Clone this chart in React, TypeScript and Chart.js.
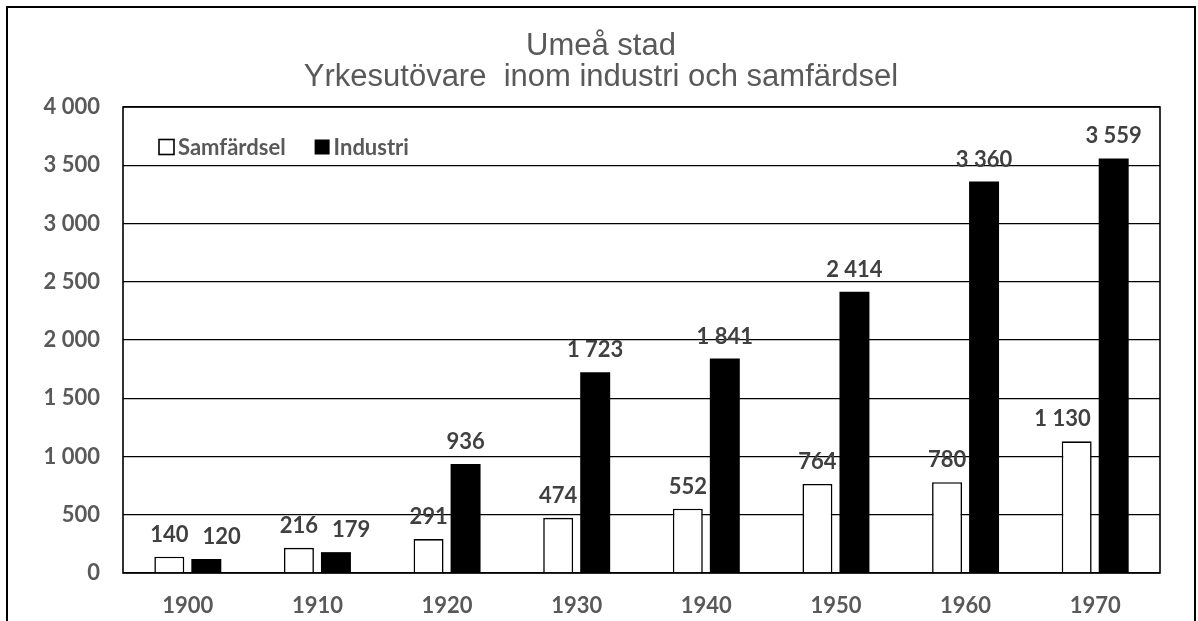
import React, { useEffect, useRef } from 'react';
import { Chart, registerables } from 'chart.js';

Chart.register(...registerables);

const years = ['1900', '1910', '1920', '1930', '1940', '1950', '1960', '1970'];
const samfardsel = [140, 216, 291, 474, 552, 764, 780, 1130];
const industri = [120, 179, 936, 1723, 1841, 2414, 3360, 3559];
const seriesNames = ['Samfärdsel', 'Industri'];
const titleLines = ['Umeå stad', 'Yrkesutövare  inom industri och samfärdsel'];
const yMin = 0;
const yMax = 4000;
const yStep = 500;

const GRAY = '#595959';
const LABEL = '#404040';
const BOLD_FAMILY = 'Lato, "Open Sans", sans-serif';
const LABEL_FONT = `bold 22px ${BOLD_FAMILY}`;

const fmt = (v: number) => String(Math.round(v)).replace(/\B(?=(\d{3})+(?!\d))/g, ' ');

const framePlugin = {
  id: 'frame',
  afterDatasetsDraw(chart: any) {
    const { ctx, chartArea: a } = chart;
    ctx.save();
    ctx.strokeStyle = '#000';
    ctx.lineWidth = 1.6;
    ctx.strokeRect(a.left, a.top, a.right - a.left, a.bottom - a.top);
    ctx.restore();
  },
};

// Value labels above the bars, with simple collision avoidance:
// a label that would run into the neighbouring bar is moved aside,
// and a label that would overlap the previous label of the same year is nudged right.
const dataLabelPlugin = {
  id: 'dataLabels',
  afterDatasetsDraw(chart: any) {
    const { ctx } = chart;
    ctx.save();
    ctx.font = LABEL_FONT;
    ctx.fillStyle = LABEL;
    ctx.textAlign = 'center';
    ctx.textBaseline = 'middle';
    const h = 18;
    const metas = chart.data.datasets.map((_: any, i: number) => chart.getDatasetMeta(i));
    const n = chart.data.labels.length;
    for (let j = 0; j < n; j++) {
      let prev: { l: number; r: number; y: number } | null = null;
      chart.data.datasets.forEach((ds: any, i: number) => {
        const el = metas[i].data[j];
        const text = fmt(ds.data[j]);
        const w = ctx.measureText(text).width;
        const y = el.y - 22;
        let x = el.x;
        metas.forEach((m: any, k: number) => {
          if (k === i) return;
          const b = m.data[j];
          const bl = b.x - b.width / 2;
          const br = b.x + b.width / 2;
          if (!(y + h / 2 > b.y)) return;
          if (k > i && x + w / 2 > bl + 1) x = bl - 8 - w / 2;
          if (k < i && x - w / 2 < br - 1) x = br + 8 + w / 2;
        });
        if (prev && Math.abs(prev.y - y) < h && x - w / 2 < prev.r + 14) {
          x = prev.r + 14 + w / 2;
        }
        ctx.fillText(text, x, y);
        prev = { l: x - w / 2, r: x + w / 2, y };
      });
    }
    ctx.restore();
  },
};

const legendPlugin = {
  id: 'innerLegend',
  afterDraw(chart: any) {
    const { ctx, chartArea: a } = chart;
    ctx.save();
    ctx.font = LABEL_FONT;
    ctx.textBaseline = 'middle';
    ctx.textAlign = 'left';
    let x = a.left + 36;
    const cy = a.top + 40;
    const box = 15;
    chart.data.datasets.forEach((ds: any) => {
      ctx.fillStyle = ds.backgroundColor;
      ctx.fillRect(x, cy - box / 2, box, box);
      if (ds.borderWidth) {
        ctx.strokeStyle = ds.borderColor;
        ctx.lineWidth = 1.6;
        ctx.strokeRect(x, cy - box / 2, box, box);
      }
      x += box + 4;
      ctx.fillStyle = GRAY;
      ctx.fillText(ds.label, x, cy + 1);
      x += ctx.measureText(ds.label).width + 29;
    });
    ctx.restore();
  },
};

export default function App() {
  const ref = useRef<HTMLCanvasElement>(null);

  useEffect(() => {
    let chart: Chart | null = null;
    let cancelled = false;
    const make = () => {
      if (cancelled || !ref.current) return;
      const tickFont = { family: BOLD_FAMILY, size: 22, weight: 'bold' as const };
      chart = new Chart(ref.current, {
        type: 'bar',
        data: {
          labels: years,
          datasets: [
            {
              label: seriesNames[0],
              data: samfardsel,
              backgroundColor: '#ffffff',
              borderColor: '#000000',
              borderWidth: 1.6,
              categoryPercentage: 0.571,
              barPercentage: 0.81,
            },
            {
              label: seriesNames[1],
              data: industri,
              backgroundColor: '#000000',
              borderColor: '#000000',
              borderWidth: 0,
              categoryPercentage: 0.571,
              barPercentage: 0.81,
            },
          ],
        },
        options: {
          responsive: false,
          animation: false,
          layout: { padding: { left: 42, right: 38, top: 0, bottom: 0 } },
          plugins: {
            legend: { display: false },
            tooltip: { enabled: false },
            title: {
              display: true,
              text: titleLines,
              color: GRAY,
              font: { family: '"Liberation Sans", Arial, sans-serif', size: 31, weight: 'normal', lineHeight: 1.0 },
              padding: { top: 31, bottom: 14 },
            },
          },
          scales: {
            x: {
              grid: { display: false, drawTicks: false },
              border: { display: false },
              ticks: { font: tickFont, color: GRAY, padding: 20 },
              afterFit: (s: any) => {
                s.height = 48;
              },
            },
            y: {
              min: yMin,
              max: yMax,
              grid: { color: '#000000', lineWidth: 1.2, drawTicks: false },
              border: { display: false },
              ticks: {
                stepSize: yStep,
                font: tickFont,
                color: GRAY,
                padding: 23,
                callback: (v: any) => fmt(Number(v)),
              },
              afterFit: (s: any) => {
                s.width = 81;
              },
            },
          },
        },
        plugins: [framePlugin, dataLabelPlugin, legendPlugin],
      });
    };
    const fonts = (document as any).fonts;
    if (fonts && fonts.load) {
      Promise.all([
        fonts.load(`bold 22px Lato`),
        fonts.load(`31px "Liberation Sans"`),
      ]).then(make, make);
    } else {
      make();
    }
    return () => {
      cancelled = true;
      if (chart) chart.destroy();
    };
  }, []);

  return (
    <div style={{ position: 'absolute', left: 0, top: 0, width: 1198, height: 621, overflow: 'hidden', background: '#fff' }}>
      <canvas
        ref={ref}
        width={1198}
        height={621}
        style={{ position: 'absolute', left: 0, top: 0, width: 1198, height: 621 }}
      />
      <div
        style={{
          position: 'absolute',
          left: 6,
          top: 6,
          width: 1190,
          height: 700,
          border: '2px solid #000',
          boxSizing: 'border-box',
          pointerEvents: 'none',
        }}
      />
    </div>
  );
}
